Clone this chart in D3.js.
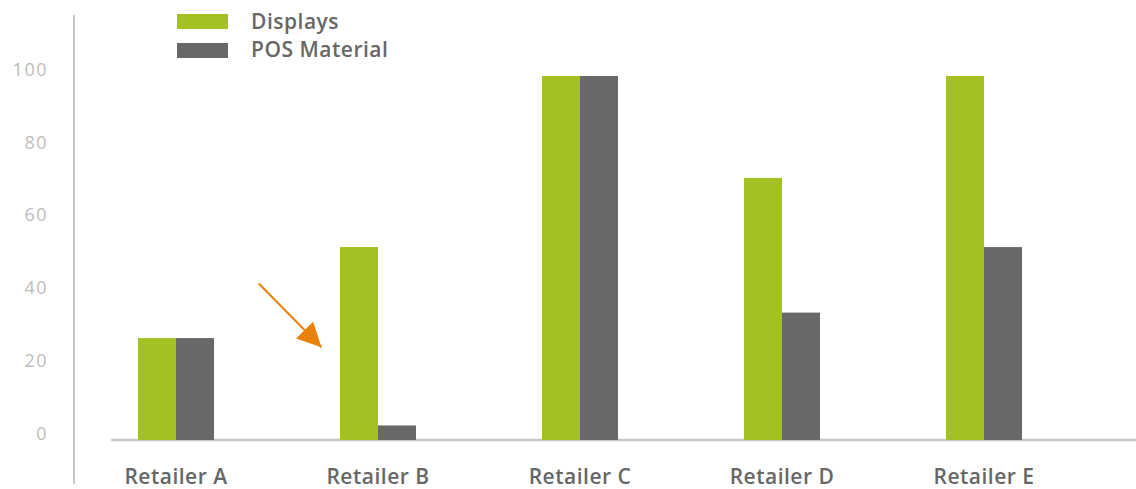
<!DOCTYPE html>
<html><head><meta charset="utf-8">
<script src="https://cdn.jsdelivr.net/npm/d3@7"></script>
<style>body{margin:0;background:#fff}svg{display:block}</style>
</head><body>
<svg id="c" width="1136" height="489"></svg>
<script>
const categories = ["Retailer A","Retailer B","Retailer C","Retailer D","Retailer E"];
const seriesNames = ["Displays","POS Material"];
const displays = [28, 53, 100, 72, 100];
const posMaterial = [28, 4, 100, 35, 53];
const yTicks = [0, 20, 40, 60, 80, 100];
const colors = ["#a3c122", "#69676a"];
// arrow annotation in data space: [category offset in bands, value]
const arrowFrom = {cat: "Retailer B", dx: -0.59, v: 43};
const arrowTo = {cat: "Retailer B", dx: -0.28, v: 25.5};

const svg = d3.select("#c");
const y = d3.scaleLinear().domain([0, 100]).range([440, 76]);
const x0 = d3.scaleBand().domain(categories).range([75, 1085]).padding(0);
const x1 = d3.scaleBand().domain(seriesNames)
  .range([x0.bandwidth()/2 - 38, x0.bandwidth()/2 + 38]).padding(0);
const color = d3.scaleOrdinal().domain(seriesNames).range(colors);

// y axis line
svg.append("line").attr("x1",74).attr("x2",74).attr("y1",15).attr("y2",484)
  .attr("stroke","#c8c8c8").attr("stroke-width",2);
// baseline
svg.append("line").attr("x1",111).attr("x2",1136).attr("y1",y(0)).attr("y2",y(0))
  .attr("stroke","#c8c8c8").attr("stroke-width",2.5);

// y tick labels
const yAxis = d3.axisLeft(y).tickValues(yTicks).tickSize(0).tickPadding(0);
const ga = svg.append("g").attr("transform","translate(48,-7)").call(yAxis);
ga.select(".domain").remove();
ga.selectAll("text").attr("fill","#bdbdbd").style("font-family","'Open Sans', sans-serif")
  .style("font-size","18px").style("letter-spacing","1.5px").attr("dy","0.35em");

// bars
const rows = categories.map((c,i)=>({cat:c, vals:[displays[i], posMaterial[i]]}));
const g = svg.append("g");
const grp = g.selectAll("g.grp").data(rows).join("g").attr("class","grp")
  .attr("transform", d=>`translate(${x0(d.cat)},0)`);
grp.selectAll("rect").data(d=>d.vals.map((v,j)=>({name:seriesNames[j], v})))
  .join("rect")
  .attr("x", d=>x1(d.name)).attr("width", x1.bandwidth())
  .attr("y", d=>y(d.v)).attr("height", d=>y(0)-y(d.v))
  .attr("fill", d=>color(d.name));

// x labels
const xAxis = d3.axisBottom(x0).tickSize(0).tickPadding(0);
const gx = svg.append("g").attr("transform","translate(0,484)").call(xAxis);
gx.select(".domain").remove();
gx.selectAll("text").attr("fill","#676767").style("font-family","'Open Sans', sans-serif")
  .style("font-size","21px").style("font-weight","600").style("letter-spacing","0.5px").attr("dy","0");

// legend
const leg = svg.append("g");
seriesNames.forEach((n,i)=>{
  leg.append("rect").attr("x",177).attr("y",14+i*29).attr("width",51).attr("height",15)
    .attr("fill",color(n));
  leg.append("text").attr("x",251).attr("y",29+i*28).text(n)
    .attr("fill","#676767").style("font-family","'Open Sans', sans-serif")
    .style("font-size","21px").style("font-weight","600").style("letter-spacing","0.5px");
});

// arrow
const defs = svg.append("defs");
defs.append("marker").attr("id","ah").attr("viewBox","0 0 10 10").attr("refX",10).attr("refY",5)
  .attr("markerWidth",24).attr("markerHeight",24).attr("markerUnits","userSpaceOnUse")
  .attr("orient","auto")
  .append("path").attr("d","M0,0 L10,5 L0,10 Z").attr("fill","#e8820c");
const ax = a => x0(a.cat) + x0.bandwidth()/2 + a.dx*x0.step();
svg.append("line")
  .attr("x1",ax(arrowFrom)).attr("y1",y(arrowFrom.v))
  .attr("x2",ax(arrowTo)).attr("y2",y(arrowTo.v))
  .attr("stroke","#e8820c").attr("stroke-width",2).attr("marker-end","url(#ah)");
</script>
</body></html>
